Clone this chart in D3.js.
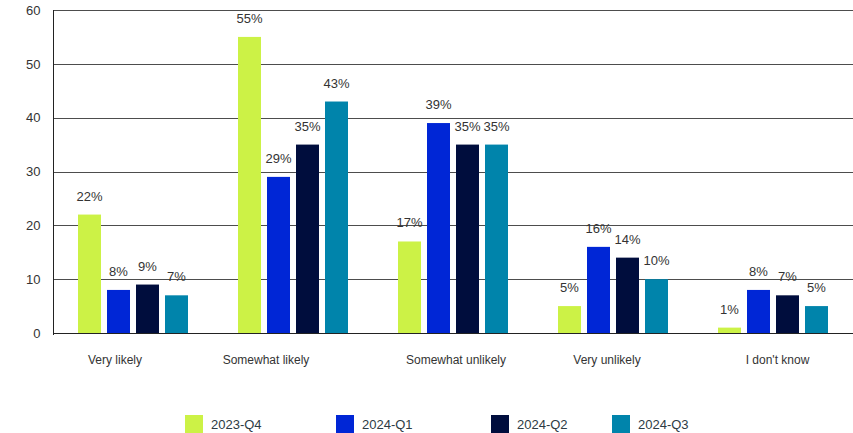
<!DOCTYPE html>
<html>
<head>
<meta charset="utf-8">
<script src="https://cdn.jsdelivr.net/npm/d3@7"></script>
<style>
  html, body { margin: 0; padding: 0; background: #fff; }
  svg { display: block; font-family: "Liberation Sans", Arial, sans-serif; }
</style>
</head>
<body>
<svg id="chart" width="853" height="433"></svg>
<script>
// Survey answers by quarter (percent of respondents)
const categories = ["Very likely", "Somewhat likely", "Somewhat unlikely", "Very unlikely", "I don't know"];
const seriesNames = ["2023-Q4", "2024-Q1", "2024-Q2", "2024-Q3"];
const q4_2023 = [22, 55, 17, 5, 1];
const q1_2024 = [8, 29, 39, 16, 8];
const q2_2024 = [9, 35, 35, 14, 7];
const q3_2024 = [7, 43, 35, 10, 5];
const yTicks = [0, 10, 20, 30, 40, 50, 60];

const seriesValues = [q4_2023, q1_2024, q2_2024, q3_2024];
const colors = ["#ccf246", "#0026d6", "#000d3d", "#0084ab"];

// Layout
const W = 853, H = 433;
const plot = { left: 53, right: 853, top: 10, bottom: 333 };
const groupInset = 25;          // space on each side of a bar cluster inside its band
const catLabelNudge = [-18, -27, 3, -6, 4.5];
const legendX = [185, 336, 491, 612];

const svg = d3.select("#chart");

const x0 = d3.scaleBand().domain(categories).range([plot.left, plot.right]).padding(0);
const x1 = d3.scaleBand().domain(seriesNames)
  .range([groupInset, x0.bandwidth() - groupInset])
  .paddingInner(0.207).paddingOuter(0);
const y = d3.scaleLinear().domain([0, 60]).range([plot.bottom, plot.top]);

// Horizontal gridlines
svg.append("g")
  .selectAll("line")
  .data(yTicks)
  .join("line")
  .attr("x1", plot.left).attr("x2", plot.right)
  .attr("y1", d => Math.round(y(d)) + 0.5).attr("y2", d => Math.round(y(d)) + 0.5)
  .attr("stroke", d => d === 0 ? "#222" : "#4d4d4d")
  .attr("stroke-width", 1);

// Y axis
const yAxis = d3.axisLeft(y).tickValues(yTicks).tickSize(0).tickPadding(13);
const gy = svg.append("g").attr("transform", `translate(${plot.left + 0.5},0)`).call(yAxis);
gy.select(".domain").remove();
gy.selectAll("text").attr("font-size", 13).attr("fill", "#333")
  .attr("font-family", "Liberation Sans, Arial, sans-serif");
svg.append("line")
  .attr("x1", plot.left + 0.5).attr("x2", plot.left + 0.5)
  .attr("y1", y(60)).attr("y2", y(0) + 2)
  .attr("stroke", "#222");

// Bars
const rows = categories.map((c, i) => ({
  cat: c,
  vals: seriesNames.map((s, j) => ({ s, j, v: seriesValues[j][i] }))
}));

const groups = svg.append("g").selectAll("g")
  .data(rows)
  .join("g")
  .attr("transform", d => `translate(${x0(d.cat)},0)`);

groups.selectAll("rect")
  .data(d => d.vals)
  .join("rect")
  .attr("x", d => x1(d.s))
  .attr("y", d => y(d.v))
  .attr("width", x1.bandwidth())
  .attr("height", d => y(0) - y(d.v))
  .attr("fill", d => colors[d.j]);

// Value labels
groups.selectAll("text")
  .data(d => d.vals)
  .join("text")
  .attr("x", d => x1(d.s) + x1.bandwidth() / 2)
  .attr("y", d => y(d.v) - 14)
  .attr("text-anchor", "middle")
  .attr("font-size", 13)
  .attr("fill", "#333")
  .text(d => Math.round(d.v) + "%");

// Category labels
const xAxis = d3.axisBottom(x0).tickSize(0).tickPadding(0);
const gx = svg.append("g").attr("transform", `translate(0,${plot.bottom})`).call(xAxis);
gx.select(".domain").remove();
gx.selectAll(".tick text")
  .attr("font-size", 12)
  .attr("fill", "#333")
  .attr("font-family", "Liberation Sans, Arial, sans-serif")
  .attr("dy", 0)
  .attr("y", 31)
  .attr("x", (d, i) => catLabelNudge[i]);

// Legend
const legend = svg.append("g").selectAll("g")
  .data(seriesNames)
  .join("g")
  .attr("transform", (d, i) => `translate(${legendX[i]},415)`);
legend.append("rect")
  .attr("width", 18).attr("height", 18)
  .attr("fill", (d, i) => colors[i]);
legend.append("text")
  .attr("x", 26).attr("y", 14)
  .attr("font-size", 13)
  .attr("fill", "#2d3b44")
  .text(d => d);
</script>
</body>
</html>
